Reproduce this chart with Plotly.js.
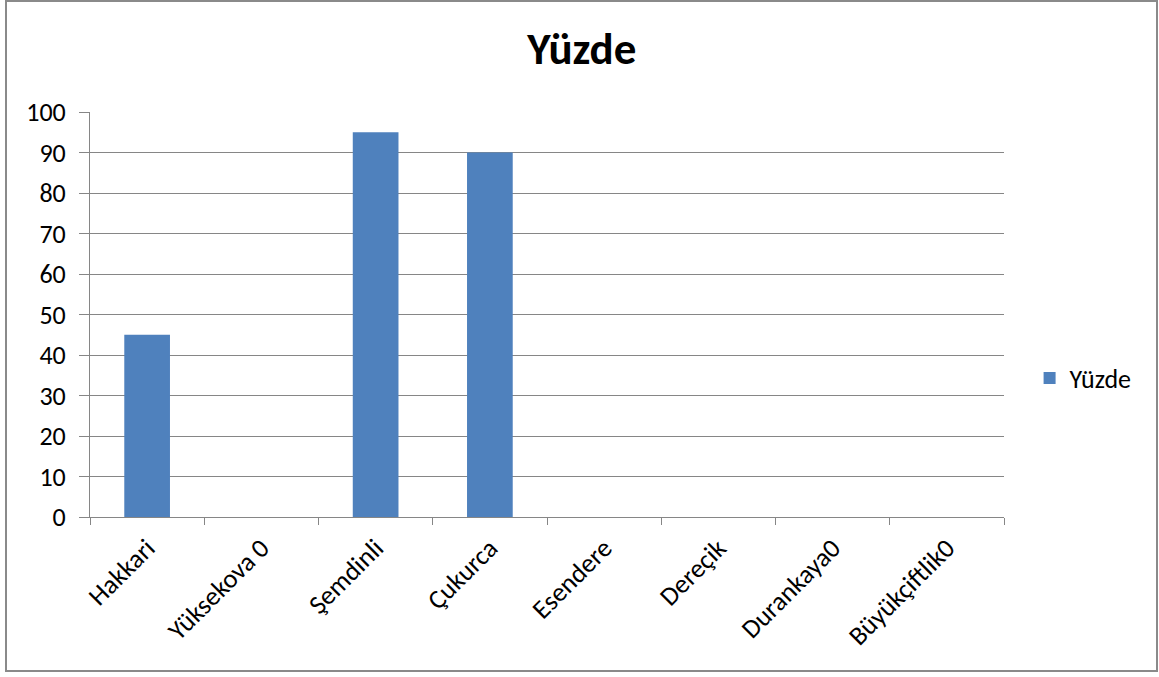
<!DOCTYPE html>
<html>
<head>
<meta charset="utf-8">
<script src="https://cdn.plot.ly/plotly-3.0.1.min.js"></script>
<style>
  html, body { margin: 0; padding: 0; background: #ffffff; }
  #chart { width: 1159px; height: 677px; }
</style>
</head>
<body>
<div id="chart"></div>
<script>
// Yüzde by district
const categories = ["Hakkari", "Yüksekova 0", "Şemdinli", "Çukurca", "Esendere", "Dereçik", "Durankaya0", "Büyükçiftlik0"];
const yuzde = [45, 0, 95, 90, 0, 0, 0, 0];
const yTicks = [0, 10, 20, 30, 40, 50, 60, 70, 80, 90, 100];

const fontFamily = "Carlito, Calibri, 'Open Sans', 'Noto Sans', sans-serif";
const gridColor = "#868686";

const trace = {
  type: "bar",
  name: "Yüzde",
  x: categories,
  y: yuzde,
  marker: { color: "#4f81bd" },
  hoverinfo: "x+y"
};

const layout = {
  width: 1159,
  height: 677,
  margin: { l: 90, r: 155, t: 112, b: 160 },
  paper_bgcolor: "#ffffff",
  plot_bgcolor: "#ffffff",
  font: { family: fontFamily, size: 26, color: "#000000" },
  title: {
    text: "<b>Yüzde</b>",
    font: { family: fontFamily, size: 45, color: "#000000" },
    x: 0.502, xref: "container", xanchor: "center",
    y: 0.928, yref: "container", yanchor: "middle"
  },
  bargap: 0.6,
  showlegend: true,
  legend: {
    x: 1.028, xanchor: "left",
    y: 0.343, yanchor: "middle",
    font: { family: fontFamily, size: 26, color: "#000000" },
    itemwidth: 30,
    bgcolor: "rgba(0,0,0,0)"
  },
  xaxis: {
    type: "category",
    tickangle: -45,
    ticks: "outside",
    tickson: "boundaries",
    ticklen: 7,
    tickcolor: gridColor,
    showline: true,
    linecolor: gridColor,
    linewidth: 1,
    showgrid: false,
    tickfont: { family: fontFamily, size: 26.5, color: "#000000" },
    ticklabelstandoff: 4,
    fixedrange: true
  },
  yaxis: {
    range: [0, 100],
    tickvals: yTicks,
    ticktext: yTicks.map(String),
    ticks: "outside",
    ticklen: 10,
    tickcolor: gridColor,
    showline: true,
    linecolor: gridColor,
    linewidth: 1,
    showgrid: true,
    gridcolor: gridColor,
    gridwidth: 1,
    zeroline: false,
    tickfont: { family: fontFamily, size: 26, color: "#000000" },
    ticklabelstandoff: 8,
    fixedrange: true
  },
  shapes: [{
    type: "rect",
    xref: "paper", yref: "paper",
    x0: (6 - 90) / 914, x1: (1157 - 90) / 914,
    y0: (517 - 671) / 405, y1: (517 - 1) / 405,
    line: { color: "#8a8a8a", width: 2 },
    fillcolor: "rgba(0,0,0,0)",
    layer: "below"
  }]
};

Plotly.newPlot("chart", [trace], layout, { displayModeBar: false, staticPlot: true });
</script>
</body>
</html>
